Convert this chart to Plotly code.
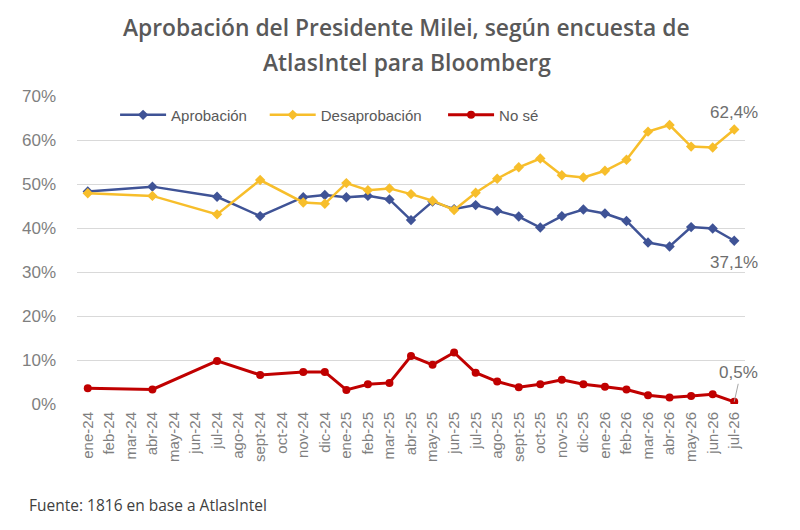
import plotly.graph_objects as go

# meses del eje x
meses = ["ene-24", "feb-24", "mar-24", "abr-24", "may-24", "jun-24", "jul-24", "ago-24",
         "sept-24", "oct-24", "nov-24", "dic-24", "ene-25", "feb-25", "mar-25", "abr-25",
         "may-25", "jun-25", "jul-25", "ago-25", "sept-25", "oct-25", "nov-25", "dic-25",
         "ene-26", "feb-26", "mar-26", "abr-26", "may-26", "jun-26", "jul-26"]

# valores en % (None = mes sin encuesta)
aprobacion = [48.3, None, None, 49.4, None, None, 47.1, None, 42.7, None, 47.0, 47.5,
              47.0, 47.3, 46.5, 41.8, 46.0, 44.3, 45.2, 43.9, 42.6, 40.1, 42.7, 44.2,
              43.3, 41.6, 36.7, 35.8, 40.2, 39.9, 37.1]
desaprobacion = [47.9, None, None, 47.3, None, None, 43.1, None, 50.9, None, 45.8, 45.5,
                 50.2, 48.6, 49.0, 47.7, 46.2, 44.1, 48.0, 51.2, 53.8, 55.8, 52.0, 51.5,
                 53.0, 55.5, 61.9, 63.4, 58.5, 58.3, 62.4]
no_se = [3.6, None, None, 3.3, None, None, 9.8, None, 6.6, None, 7.3, 7.3,
         3.2, 4.5, 4.8, 10.9, 8.9, 11.7, 7.1, 5.1, 3.8, 4.5, 5.5, 4.5,
         3.9, 3.3, 2.0, 1.5, 1.8, 2.2, 0.5]

y_ticks = [0, 10, 20, 30, 40, 50, 60, 70]

titulo = ["Aprobación del Presidente Milei, según encuesta de", "AtlasIntel para Bloomberg"]

AZUL = "#3F5396"
AMARILLO = "#F7BE2B"
ROJO = "#C00000"
GRIS = "#7F7F7F"
TXT = "Liberation Sans, Arial"

fig = go.Figure()

fig.add_trace(go.Scatter(x=meses, y=aprobacion, name="Aprobación", mode="lines+markers",
                         connectgaps=True, line=dict(color=AZUL, width=2.5), legend="legend",
                         marker=dict(symbol="diamond", size=8, color=AZUL)))
fig.add_trace(go.Scatter(x=meses, y=desaprobacion, name="Desaprobación", mode="lines+markers",
                         connectgaps=True, line=dict(color=AMARILLO, width=2.5), legend="legend2",
                         marker=dict(symbol="diamond", size=8, color=AMARILLO)))
fig.add_trace(go.Scatter(x=meses, y=no_se, name="No sé", mode="lines+markers",
                         connectgaps=True, line=dict(color=ROJO, width=3), legend="legend3",
                         marker=dict(symbol="circle", size=8, color=ROJO)))

ult = meses[-1]
etiqueta = dict(font=dict(family=TXT, size=17, color="#6E6E6E"), xref="x", yref="y")
fig.add_annotation(x=ult, y=desaprobacion[-1], text="62,4%", showarrow=False,
                   yshift=17, xshift=0, **etiqueta)
fig.add_annotation(x=ult, y=aprobacion[-1], text="37,1%", showarrow=False,
                   yshift=-22, xshift=0, **etiqueta)
fig.add_annotation(x=ult, y=no_se[-1], text="0,5%", showarrow=True, arrowhead=0,
                   arrowwidth=1, arrowcolor="#A6A6A6", ax=4, ay=-18,
                   yanchor="bottom", **etiqueta)

# título en dos líneas (más interlineado que el de plotly)
for i, linea in enumerate(titulo):
    fig.add_annotation(text=linea, xref="paper", yref="paper",
                       x=0.494, y=1.224 - i * 0.114, xanchor="center", yanchor="middle",
                       showarrow=False,
                       font=dict(family="Open Sans", size=22.8, weight=600, color="#595959"))

ley = dict(orientation="h", y=0.938, xanchor="left", yanchor="middle",
           font=dict(family=TXT, size=15, color="#595959"),
           bgcolor="rgba(0,0,0,0)", itemwidth=46)

fig.update_layout(
    width=800, height=530,
    margin=dict(l=69, r=63, t=88, b=134),
    paper_bgcolor="white", plot_bgcolor="white",
    legend=dict(x=0.057, **ley),
    legend2=dict(x=0.281, **ley),
    legend3=dict(x=0.548, **ley),
    font=dict(family=TXT, color=GRIS),
    showlegend=True,
)

fig.update_xaxes(type="category", tickangle=-90, showgrid=False, zeroline=False,
                 showline=False, ticks="", tickfont=dict(size=15, color=GRIS),
                 ticklabelstandoff=4, range=[-0.5, len(meses) - 0.5])
fig.update_yaxes(range=[0, 70], tickvals=y_ticks, ticktext=[f"{v}%" for v in y_ticks],
                 showgrid=True, gridcolor="#D9D9D9", gridwidth=1, zeroline=False,
                 tickfont=dict(size=17, color=GRIS), ticks="", ticklabelstandoff=20)

fig.add_annotation(text="Fuente: 1816 en base a AtlasIntel", xref="paper", yref="paper",
                   x=-0.075, y=-0.328, xanchor="left", yanchor="middle", showarrow=False,
                   font=dict(family="Open Sans", size=15.5, color="#404040"))

fig.write_html("out.html")
